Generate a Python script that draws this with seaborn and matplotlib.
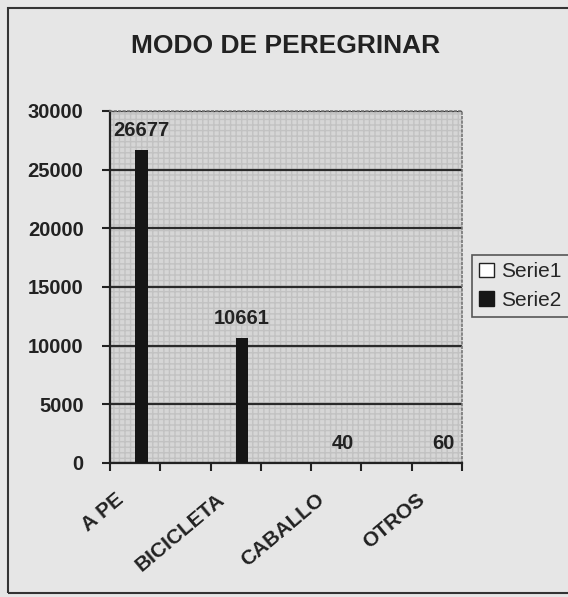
import numpy as np
import pandas as pd
import matplotlib
matplotlib.use("Agg")
import matplotlib.pyplot as plt
import matplotlib.transforms as mtransforms
from matplotlib.patches import Patch, Rectangle
import seaborn as sns

# datos
categorias = ["A PE", "vacio1", "BICICLETA", "vacio2", "CABALLO", "vacio3", "OTROS"]
etiquetas = ["A PE", "", "BICICLETA", "", "CABALLO", "", "OTROS"]
serie1 = [0, 0, 0, 0, 0, 0, 0]
serie2 = [26677, 0, 10661, 0, 40, 0, 60]
ticks_y = [0, 5000, 10000, 15000, 20000, 25000, 30000]

df = pd.DataFrame({
    "categoria": categorias * 2,
    "valor": serie1 + serie2,
    "serie": ["Serie1"] * len(categorias) + ["Serie2"] * len(categorias),
})

sns.set_style("white")
plt.rcParams["font.family"] = ["Liberation Sans", "DejaVu Sans"]

fondo = "#e6e6e6"
fig = plt.figure(figsize=(5.68, 5.97), dpi=100, facecolor=fondo)
ax = fig.add_axes([110 / 568, 1 - 463 / 597, 352 / 568, 352 / 597])
ax.set_facecolor("#d6d6d6")
# textura del area de trazado
ax.add_patch(Rectangle((0, 0), 1, 1, transform=ax.transAxes, facecolor="none",
                       edgecolor="#c2c2c2", hatch="+++", linewidth=0, zorder=0))

sns.barplot(data=df, x="categoria", y="valor", hue="serie", order=categorias,
            palette={"Serie1": "white", "Serie2": "#161616"}, width=0.5,
            linewidth=0, legend=False, ax=ax, zorder=3)

# etiquetas de datos solo para Serie2 con valor
cont = ax.containers[1]
ax.bar_label(cont, labels=[str(v) if v else "" for v in serie2], padding=7,
             fontsize=14.5, fontweight="bold", color="#222222")

ax.set_ylim(0, 30000)
ax.set_xlim(-0.5, len(categorias) - 0.5)
ax.set_yticks(ticks_y)
ax.set_yticklabels([str(t) for t in ticks_y], fontsize=14.5, fontweight="bold", color="#222222")
ax.yaxis.grid(True, color="#2a2a2a", linewidth=1.6, zorder=1)
ax.set_axisbelow(True)

ax.set_xticks(range(len(categorias)))
ax.set_xticklabels(etiquetas, rotation=40, ha="right", va="top", rotation_mode="anchor",
                   fontsize=15, fontweight="bold", color="#222222")
ax.set_xticks(np.arange(-0.5, len(categorias), 1), minor=True)
ax.tick_params(axis="x", which="major", length=0, pad=19)
ax.tick_params(axis="x", which="minor", length=6, width=1.5, color="#222222", direction="out", bottom=True)
ax.tick_params(axis="y", length=6, width=1.5, color="#222222", direction="out", left=True, pad=13)

# correr las etiquetas rotadas hacia la izquierda
desplaza = mtransforms.ScaledTranslation(-0.2, 0, fig.dpi_scale_trans)
for lab in ax.get_xticklabels():
    lab.set_transform(lab.get_transform() + desplaza)

ax.set_xlabel("")
ax.set_ylabel("")
for lado in ["left", "bottom"]:
    ax.spines[lado].set_color("#222222")
    ax.spines[lado].set_linewidth(1.6)
for lado in ["top", "right"]:
    ax.spines[lado].set_color("#777777")
    ax.spines[lado].set_linestyle(":")
    ax.spines[lado].set_linewidth(1.2)

ax.set_title("MODO DE PEREGRINAR", fontsize=19, fontweight="bold", color="#222222", pad=42)

handles = [Patch(facecolor="white", edgecolor="#222222", linewidth=1, label="Serie1"),
           Patch(facecolor="#161616", edgecolor="#161616", linewidth=1, label="Serie2")]
leg = fig.legend(handles=handles, loc="upper left", bbox_to_anchor=(472 / 568, 1 - 255 / 597),
                 frameon=True, fancybox=False, edgecolor="#333333", facecolor=fondo,
                 fontsize=15, handlelength=0.7, handleheight=0.7, handletextpad=0.35,
                 borderpad=0.35, labelspacing=0.45, borderaxespad=0)
leg.get_frame().set_linewidth(1.2)

# marco exterior del grafico
fig.add_artist(Rectangle((8 / 568, 1 - 593 / 597), 600 / 568, 585 / 597,
                         transform=fig.transFigure, facecolor="none",
                         edgecolor="#333333", linewidth=1.5))

fig.savefig("out.png", dpi=100, facecolor=fondo)
